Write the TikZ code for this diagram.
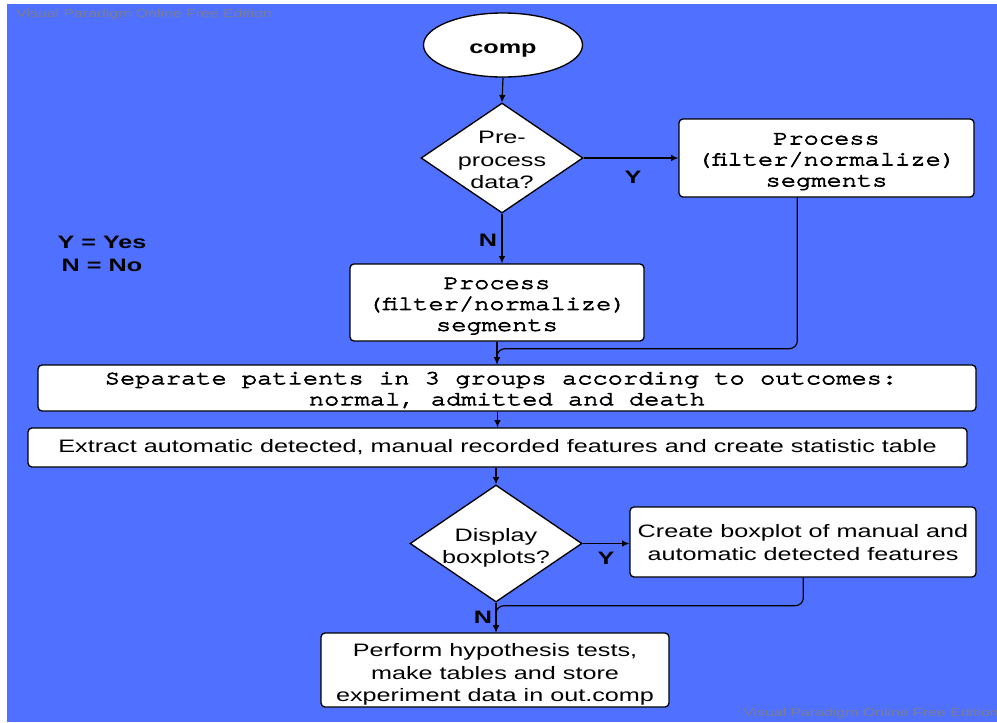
\documentclass[tikz,border=0pt]{standalone}
\usepackage{fontspec}
\setmainfont{Liberation Sans}[FakeStretch=1.4]
\setmonofont{texgyrecursor-regular.otf}[FakeStretch=1.27, FakeBold=3.5]
\usetikzlibrary{shapes.geometric,arrows.meta,calc}
\definecolor{bgblue}{RGB}{80,112,255}
\definecolor{wmgray}{RGB}{125,125,140}
% strut for a single-line node, independent of the glyphs it contains
\newcommand\topstrut{\rule{0pt}{1.12em}}
\newcommand\botstrut{\rule[-0.212em]{0pt}{0pt}}
\tikzset{
  struts/.style={execute at begin node=\topstrut, execute at end node=\botstrut},
  % fixed text box: height above the last baseline, no depth
  lines/.style={text height=#1, text depth=0pt},
  box/.style={draw=black, line width=1pt, fill=white, rounded corners=3pt, inner sep=0pt, align=center},
  sansbox/.style={box, font=\fontsize{13.5}{16.9}\selectfont},
  monobox/.style={box, font=\ttfamily\fontsize{15}{15.75}\selectfont},
  decision/.style={diamond, draw=black, line width=1pt, fill=white, inner sep=0pt},
  dtext/.style={align=center, inner sep=0pt, font=\fontsize{13.5}{16.9}\selectfont},
  flow/.style={draw=black, line width=0.9pt, -{Latex[length=5.5pt,width=5pt]}},
  tag/.style={font=\bfseries\fontsize{13.5}{17}\selectfont, inner sep=0pt},
  watermark/.style={text=wmgray, font=\fontsize{8.5}{10}\selectfont, inner sep=0pt, anchor=west},
}
\begin{document}
\begin{tikzpicture}[x=0.75pt, y=-0.75pt]
\useasboundingbox (0,0) rectangle (997,722);
\fill[bgblue] (7,4) rectangle (997,722);

% watermarks
\node[watermark] (wmtop) at (16,15) {Visual Paradigm Online Free Edition};
\node[watermark] (wmbot) at (743,714) {Visual Paradigm Online Free Edition};

% start
\node[ellipse, draw=black, line width=1pt, fill=white, inner sep=0pt,
      minimum width=119.25pt, minimum height=48pt, tag, struts] (comp) at (503,45) {comp};

% first decision and its branches
\node[decision, minimum width=121.5pt, minimum height=82.5pt,
      label={[dtext, lines=46.1pt]center:Pre-\\process\\data?}] (D1) at (502,158) {};
\node[monobox, lines=42.6pt, minimum width=221.25pt, minimum height=58.5pt] (R1) at (826.5,158)
  {Process\\(filter/normalize)\\segments};
\node[monobox, lines=42.6pt, minimum width=220.5pt, minimum height=57.75pt] (P2) at (497,302.5)
  {Process\\(filter/normalize)\\segments};

% grouping and feature extraction
\node[monobox, lines=25.85pt, minimum width=703.5pt, minimum height=34.5pt] (S) at (507,388)
  {Separate patients in 3 groups according to outcomes:\kern0.6em\\normal, admitted and death};
\node[sansbox, lines=7.5pt, minimum width=704.25pt, minimum height=29.25pt] (E) at (497.5,447.5)
  {Extract automatic detected, manual recorded features and create statistic table};

% second decision and its branches
\node[decision, minimum width=129pt, minimum height=87.75pt,
      label={[dtext, lines=30.4pt]center:Display\\boxplots?}] (D2) at (496,543.5) {};
\node[sansbox, lines=27.3pt, minimum width=259.5pt, minimum height=52.5pt] (CB) at (803,542)
  {Create boxplot of manual and\\automatic detected features};
\node[sansbox, lines=47.5pt, minimum width=261pt, minimum height=55.5pt] (P4) at (495,670)
  {Perform hypothesis tests,\\make tables and store\\experiment data in out.comp};

% legend and branch tags
\node[tag, align=center, lines=27.7pt, font=\bfseries\fontsize{13.5}{17.25}\selectfont] (legend) at (102,253) {Y = Yes\\N = No};
\node[tag] (y1) at (633,177) {Y};
\node[tag] (n1) at (488,240) {N};
\node[tag] (y2) at (606,558) {Y};
\node[tag] (n2) at (483,617) {N};

% connectors
\draw[flow] (comp.south) -- (D1.north);
\draw[flow] (D1.east) -- (R1.west);
\draw[flow] (D1.south) -- (D1.south |- P2.north);
\draw[flow] (P2.south) -- (P2.south |- S.north);
\coordinate (r1out) at ($(R1.south west)+(119,0)$);
\draw[flow, rounded corners=6pt] (r1out) |- ($(P2.south)+(0,7)$) -- (P2.south |- S.north);
\draw[flow] (E.north |- S.south) -- (E.north);
\draw[flow] (D2.north |- E.south) -- (D2.north);
\draw[flow] (D2.east) -- (D2.east -| CB.west);
\draw[flow] (D2.south) -- (D2.south |- P4.north);
\coordinate (cbout) at ($(CB.south west)+(174,0)$);
\draw[flow, rounded corners=6pt] (cbout) |- ($(D2.south)+(0,3)$) -- (D2.south |- P4.north);
\end{tikzpicture}
\end{document}
